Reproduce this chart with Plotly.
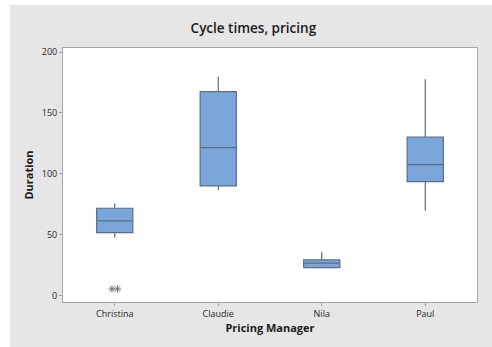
import plotly.graph_objects as go

# ---- data ----
managers = ["Christina", "Claudie", "Nila", "Paul"]
q1 = [51.9, 90.2, 23.2, 93.7]
median = [61.5, 121.6, 26.8, 107.6]
q3 = [71.9, 167.5, 29.5, 130.3]
lower_whisker = [47.8, 86.9, 22.7, 69.9]
upper_whisker = [76.0, 179.8, 36.3, 177.6]
# outliers: (manager index, value)
outlier_manager = [0, 0]
outlier_value = [5.7, 5.7]
y_ticks = [0, 50, 100, 150, 200]

W, H = 492, 347
ML, MR, MT, MB = 63, 15, 48, 45

fill_col = "#7BA6DA"
line_col = "#5A6E8C"
panel_col = "#E6E6E6"
text_col = "#262626"

positions = list(range(len(managers)))

fig = go.Figure()
fig.add_trace(go.Box(
    x=positions,
    q1=q1, median=median, q3=q3,
    lowerfence=lower_whisker, upperfence=upper_whisker,
    width=0.35,
    whiskerwidth=0,
    fillcolor=fill_col,
    line=dict(color=line_col, width=1.2),
    boxpoints=False,
    hoverinfo="skip",
    showlegend=False,
))

# side-by-side placement of identical outliers (Minitab style)
jitter_step = 0.027
xs = []
seen = {}
for m, v in zip(outlier_manager, outlier_value):
    key = (m, v)
    seen[key] = seen.get(key, 0) + 1
for key, n in seen.items():
    for k in range(n):
        xs.append((key[0] + (k - (n - 1) / 2) * 2 * jitter_step, key[1]))
fig.add_trace(go.Scatter(
    x=[p[0] for p in xs], y=[p[1] for p in xs],
    mode="markers",
    marker=dict(symbol="asterisk-open", size=6, color="#666666",
                line=dict(color="#666666", width=0.9)),
    showlegend=False, hoverinfo="skip",
))

# white strips outside the grey panel (left and top)
px_x = lambda px: (px - ML) / (W - ML - MR)
px_y = lambda py: (H - MB - py) / (H - MT - MB)
fig.add_shape(type="rect", xref="paper", yref="paper",
              x0=px_x(-5), x1=px_x(10), y0=px_y(H + 5), y1=px_y(-5),
              fillcolor="white", line=dict(width=0), layer="above")
fig.add_shape(type="rect", xref="paper", yref="paper",
              x0=px_x(-5), x1=px_x(W + 5), y0=px_y(5), y1=px_y(-5),
              fillcolor="white", line=dict(width=0), layer="above")

fig.update_layout(
    width=W, height=H,
    margin=dict(l=ML, r=MR, t=MT, b=MB),
    paper_bgcolor=panel_col,
    plot_bgcolor="white",
    font=dict(family="Open Sans", size=9, color=text_col),
    title=dict(text="Cycle times, pricing", x=0.515, xanchor="center",
               y=1 - 28 / H, yanchor="middle",
               font=dict(family="Open Sans", size=13.5, color="#1a1a1a", weight=600)),
    showlegend=False,
)
fig.update_xaxes(
    range=[-0.5, len(managers) - 0.5],
    tickmode="array", tickvals=positions, ticktext=managers,
    ticks="outside", ticklen=3, tickcolor="#A0A0A0",
    showline=True, mirror=True, linecolor="#A6A6A6", linewidth=1,
    showgrid=False, zeroline=False,
    tickfont=dict(family="Open Sans", size=9, color=text_col),
    title=dict(text="Pricing Manager", standoff=5,
               font=dict(family="Open Sans", size=11, color="#1a1a1a", weight=700)),
)
fig.update_yaxes(
    range=[-5, 203.3],
    tickmode="array", tickvals=y_ticks,
    ticks="outside", ticklen=3, tickcolor="#A0A0A0",
    showline=True, mirror=True, linecolor="#A6A6A6", linewidth=1,
    showgrid=False, zeroline=False,
    tickfont=dict(family="Open Sans", size=9, color=text_col),
    title=dict(text="Duration", standoff=5,
               font=dict(family="Open Sans", size=11, color="#1a1a1a", weight=700)),
)

fig.write_html("out.html")
